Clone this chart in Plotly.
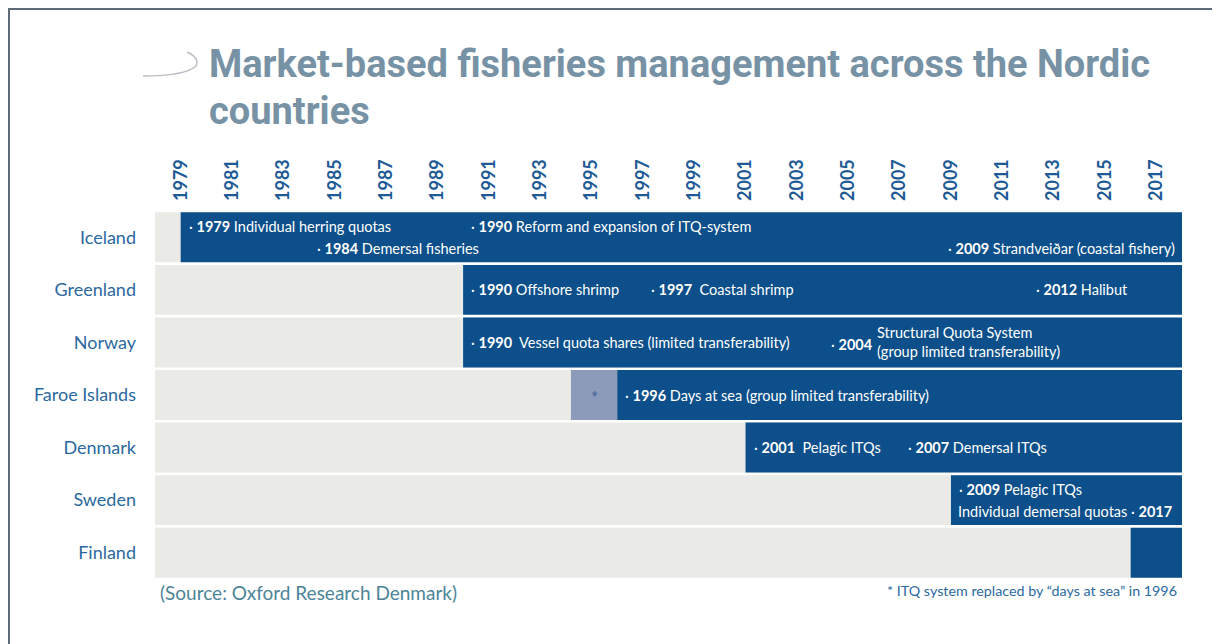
import plotly.graph_objects as go

# ---- data ----
countries = ["Iceland", "Greenland", "Norway", "Faroe Islands", "Denmark", "Sweden", "Finland"]
start_years = [1979, 1990, 1990, 1996, 2001, 2009, 2016]
axis_start = 1978
axis_end = 2018
faroe_itq_start = 1994.2
faroe_itq_end = 1996
year_ticks = [1979, 1981, 1983, 1985, 1987, 1989, 1991, 1993, 1995, 1997,
              1999, 2001, 2003, 2005, 2007, 2009, 2011, 2013, 2015, 2017]

event_country = ["Iceland", "Iceland", "Iceland", "Iceland",
                 "Greenland", "Greenland", "Greenland",
                 "Norway", "Faroe Islands",
                 "Denmark", "Denmark", "Sweden"]
event_year = [1979, 1990, 1984, 2009,
              1990, 1997, 2012,
              1990, 1996,
              2001, 2007, 2009]
event_text = ["Individual herring quotas", "Reform and expansion of ITQ-system",
              "Demersal fisheries", "Strandveiðar (coastal fishery)",
              "Offshore shrimp", " Coastal shrimp", "Halibut",
              " Vessel quota shares (limited transferability)",
              "Days at sea (group limited transferability)",
              " Pelagic ITQs", "Demersal ITQs", "Pelagic ITQs"]
event_line = [-1, -1, 1, 1, 0, 0, 0, 0, 0, 0, 0, -1]

norway_2004_year = 2004
norway_2004_text = ["Structural Quota System", "(group limited transferability)"]
sweden_2017_text = "Individual demersal quotas"
sweden_2017_year = 2017

# ---- styling ----
DARK_BLUE = "#0c4f8a"
GREY = "#eaeae6"
LIGHT = "#8b9bb9"
LABEL_BLUE = "#2c69a0"
BODY_FONT = "Lato, 'Open Sans', sans-serif"
BAR_TEXT = {"color": "white", "size": 14.5, "family": BODY_FONT}
# labels that sit flush against the right end of their bar
RIGHT_ALIGNED = {("Iceland", 2009)}

# the page puts the figure 8px in from the window corner
OFFSET = 8
W, H = 1220, 644
# plot area edges, in window pixels
L, R, T, B = 155, 1182, 211, 579


def px_x(p):
    return (p - L) / (R - L)


def px_y(p):
    return (B - p) / (B - T)


fig = go.Figure()

fig.add_trace(go.Bar(
    y=countries,
    x=[axis_end - axis_start] * len(countries),
    base=axis_start,
    orientation="h",
    marker={"color": GREY, "line": {"width": 0}},
    hoverinfo="skip",
))

fig.add_trace(go.Bar(
    y=countries,
    x=[axis_end - s for s in start_years],
    base=start_years,
    orientation="h",
    marker={"color": DARK_BLUE, "line": {"width": 0}},
    hoverinfo="skip",
))

fig.add_trace(go.Bar(
    y=["Faroe Islands"],
    x=[faroe_itq_end - faroe_itq_start],
    base=faroe_itq_start,
    orientation="h",
    marker={"color": LIGHT, "line": {"width": 0}},
    hoverinfo="skip",
))

annotations = []
annotations.append(dict(
    x=(faroe_itq_start + faroe_itq_end) / 2, y="Faroe Islands", xref="x", yref="y",
    text="*", showarrow=False, xanchor="center", yanchor="middle", yshift=-2,
    font={"color": "#3f6498", "size": 17, "family": BODY_FONT},
))
for country, year, text, line in zip(event_country, event_year, event_text, event_line):
    flush = (country, year) in RIGHT_ALIGNED
    annotations.append(dict(
        x=axis_end if flush else year, y=country, xref="x", yref="y",
        text=f"· <b>{year}</b> {text}",
        showarrow=False, xanchor="right" if flush else "left", yanchor="middle",
        xshift=-5 if flush else 6, yshift=-11 * line,
        font=BAR_TEXT,
    ))

annotations.append(dict(
    x=norway_2004_year, y="Norway", xref="x", yref="y",
    text=f"· <b>{norway_2004_year}</b>",
    showarrow=False, xanchor="left", yanchor="middle", xshift=6, yshift=-2,
    font=BAR_TEXT,
))
annotations.append(dict(
    x=norway_2004_year, y="Norway", xref="x", yref="y",
    text="<br>".join(norway_2004_text), align="left",
    showarrow=False, xanchor="left", yanchor="middle", xshift=52,
    font=BAR_TEXT,
))
annotations.append(dict(
    x=axis_end, y="Sweden", xref="x", yref="y",
    text=f"{sweden_2017_text} · <b>{sweden_2017_year}</b>",
    showarrow=False, xanchor="right", yanchor="middle", xshift=-8, yshift=-11,
    font=BAR_TEXT,
))

# title, source and footnote
TITLE_FONT = {"color": "#7791a5", "size": 38,
              "family": "'Liberation Sans Narrow', Roboto, sans-serif", "weight": "bold"}
annotations.append(dict(
    x=px_x(207), y=px_y(64), xref="paper", yref="paper",
    text="Market-based fisheries management across the Nordic",
    showarrow=False, xanchor="left", yanchor="middle", font=TITLE_FONT,
))
annotations.append(dict(
    x=px_x(207), y=px_y(111), xref="paper", yref="paper",
    text="countries",
    showarrow=False, xanchor="left", yanchor="middle", font=TITLE_FONT,
))
annotations.append(dict(
    x=px_x(158), y=px_y(592), xref="paper", yref="paper",
    text="(Source: Oxford Research Denmark)",
    showarrow=False, xanchor="left", yanchor="middle",
    font={"color": "#4d8497", "size": 19, "family": BODY_FONT},
))
annotations.append(dict(
    x=px_x(1179), y=px_y(590), xref="paper", yref="paper",
    text="* ITQ system replaced by \u201cdays at sea\u201d in 1996",
    showarrow=False, xanchor="right", yanchor="middle",
    font={"color": "#2c6aa0", "size": 14.3, "family": BODY_FONT},
))

shapes = [
    # frame
    dict(type="line", xref="paper", yref="paper",
         x0=px_x(9), x1=px_x(9), y0=px_y(8), y1=px_y(660),
         line={"color": "#5d6b78", "width": 2}),
    dict(type="line", xref="paper", yref="paper",
         x0=px_x(9), x1=px_x(1214), y0=px_y(9), y1=px_y(9),
         line={"color": "#5d6b78", "width": 2}),
    # decorative swoosh before the title
    dict(type="path", xref="paper", yref="paper",
         path=(f"M {px_x(143)},{px_y(76)} "
               f"Q {px_x(185)},{px_y(76)} {px_x(196)},{px_y(66)} "
               f"Q {px_x(200)},{px_y(58)} {px_x(187)},{px_y(52)}"),
         line={"color": "#b9bec4", "width": 1.5}),
]

fig.update_layout(
    width=W, height=H,
    margin={"l": L - OFFSET, "r": W - (R - OFFSET), "t": T - OFFSET,
            "b": H - (B - OFFSET), "pad": 0},
    paper_bgcolor="white", plot_bgcolor="white",
    barmode="overlay", bargap=0.05,
    showlegend=False,
    xaxis={
        "range": [axis_start, axis_end], "side": "top",
        "tickvals": year_ticks, "ticktext": [f"<b>{y}</b>" for y in year_ticks],
        "tickangle": -90, "ticks": "", "ticklabelstandoff": 9,
        "showgrid": False, "zeroline": False, "showline": False,
        "tickfont": {"color": "#1d5a96", "size": 18, "family": BODY_FONT},
        "fixedrange": True,
    },
    yaxis={
        "categoryorder": "array", "categoryarray": countries,
        "autorange": "reversed", "ticks": "", "ticklabelstandoff": 18,
        "showgrid": False, "zeroline": False, "showline": False,
        "tickfont": {"color": LABEL_BLUE, "size": 18, "family": BODY_FONT},
        "fixedrange": True,
    },
    annotations=annotations,
    shapes=shapes,
)

fig.write_html("out.html")
